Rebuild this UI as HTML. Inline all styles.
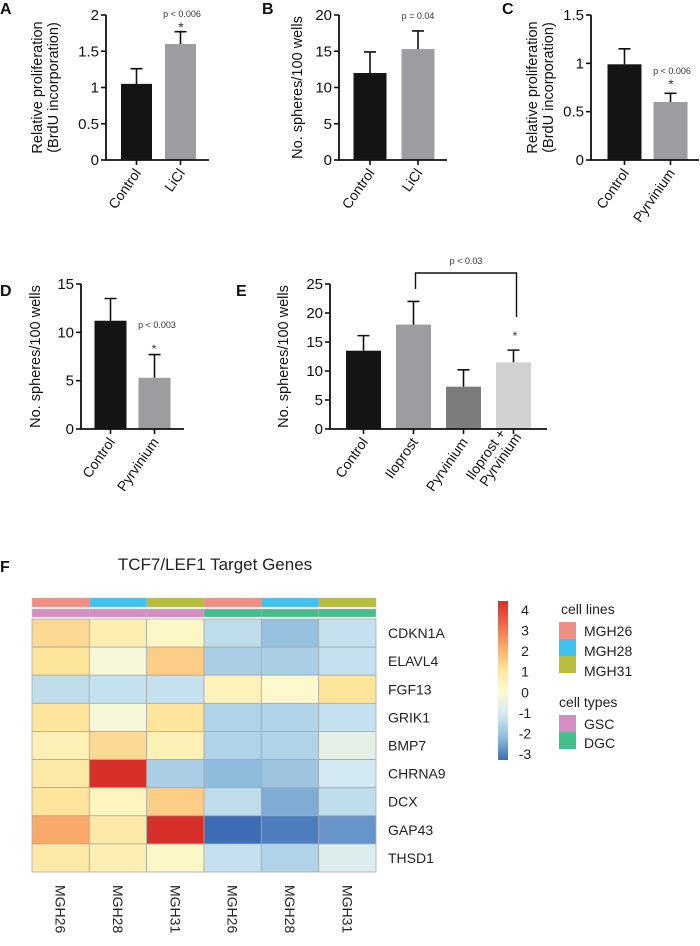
<!DOCTYPE html>
<html><head><meta charset="utf-8">
<style>
html,body{margin:0;padding:0;background:#fff;}
svg{display:block;font-family:"Liberation Sans Narrow","Liberation Sans",sans-serif;}
</style></head>
<body>
<svg id="fig" width="700" height="946" viewBox="0 0 700 946" xmlns="http://www.w3.org/2000/svg"></svg>
<script>
// ---- Bar panel data ----
const catsA = ["Control","LiCl"];
const valsA = [1.05, 1.6];
const errA = [0.21, 0.17];
const ticksA = [0, 0.5, 1, 1.5, 2];

const catsB = ["Control","LiCl"];
const valsB = [12, 15.3];
const errB = [2.9, 2.5];
const ticksB = [0, 5, 10, 15, 20];

const catsC = ["Control","Pyrvinium"];
const valsC = [0.99, 0.6];
const errC = [0.16, 0.09];
const ticksC = [0, 0.5, 1, 1.5];

const catsD = ["Control","Pyrvinium"];
const valsD = [11.2, 5.3];
const errD = [2.3, 2.4];
const ticksD = [0, 5, 10, 15];

const catsE = ["Control","Iloprost","Pyrvinium","Iloprost +|Pyrvinium"];
const valsE = [13.5, 18, 7.3, 11.5];
const errE = [2.6, 4, 2.9, 2.1];
const ticksE = [0, 5, 10, 15, 20, 25];

// ---- Heatmap data ----
const genes = ["CDKN1A","ELAVL4","FGF13","GRIK1","BMP7","CHRNA9","DCX","GAP43","THSD1"];
const sampleLabels = ["MGH26","MGH28","MGH31","MGH26","MGH28","MGH31"];
const cellLineOf = ["MGH26","MGH28","MGH31","MGH26","MGH28","MGH31"];
const cellTypeOf = ["GSC","GSC","GSC","DGC","DGC","DGC"];
const heatValues = [
  [1.2, 0.6, 0.2, -1.3, -1.9, -1.2],
  [1.0, -0.2, 1.4, -1.6, -1.6, -1.2],
  [-1.3, -1.2, -1.2, 0.4, 0.1, 1.0],
  [1.0, -0.2, 1.0, -1.5, -1.5, -1.2],
  [0.5, 1.2, 0.5, -1.5, -1.5, -0.6],
  [0.8, 4.0, -1.6, -2.0, -1.8, -1.0],
  [1.0, 0.3, 1.4, -1.3, -2.2, -1.3],
  [2.0, 0.8, 4.0, -3.0, -2.8, -2.5],
  [0.8, 0.6, 0.2, -1.2, -1.5, -0.8]
];
const colorTicks = [4, 3, 2, 1, 0, -1, -2, -3];

const NS = "http://www.w3.org/2000/svg";
const svg = document.getElementById("fig");
function mk(tag, attrs, parent) {
  const e = document.createElementNS(NS, tag);
  for (const k in attrs) e.setAttribute(k, attrs[k]);
  (parent || svg).appendChild(e);
  return e;
}
function txt(s, attrs, parent) { const e = mk("text", attrs, parent); e.textContent = s; return e; }

function barPanel(cfg) {
  const g = mk("g", {});
  
  
  const yMax = cfg.ticks[cfg.ticks.length - 1];
  const y = v => cfg.y0 - (v / yMax) * (cfg.y0 - cfg.yTop);
  const xc = i => cfg.c0 + cfg.step * i;
  const L = txt(cfg.letter, {x: cfg.lx, y: cfg.ly, "font-size": 16, "font-weight": "bold", fill: "#111"}, g);
  
  
  cfg.vals.forEach((v, i) => {
    const cx = xc(i);
    const b = mk("rect", {x: cx - cfg.bw / 2, y: y(v), width: cfg.bw, height: cfg.y0 - y(v), fill: cfg.colors[i]}, g);
    
    
    const top = y(v + cfg.errs[i]);
    const eb = mk("path", {d: `M${cx},${y(v)}V${top}M${cx - 6},${top}H${cx + 6}`, stroke: "#111", "stroke-width": 1.6, fill: "none"}, g);
    
    
    mk("line", {x1: cx, y1: cfg.y0, x2: cx, y2: cfg.y0 + 5, stroke: "#111", "stroke-width": 1.6}, g);
    const parts = cfg.cats[i].split("|");
    const lbl = txt("", {transform: `translate(${cx + 5},${cfg.y0 + 13}) rotate(-55)`, "text-anchor": "end", "font-size": 14, fill: "#111"}, g);
    
    
    parts.forEach((p, k) => { const ts = mk("tspan", {x: k === 0 ? 0 : 6, dy: k === 0 ? -(parts.length - 1) * 15 : 15}, lbl); ts.textContent = p; });
  });
  const ax = mk("path", {d: `M${cfg.ax},${cfg.yTop}V${cfg.y0}H${cfg.xEnd}`, stroke: "#111", "stroke-width": 1.8, fill: "none"}, g);
  
  
  cfg.ticks.forEach(t => {
    mk("line", {x1: cfg.ax - 5, y1: y(t), x2: cfg.ax, y2: y(t), stroke: "#111", "stroke-width": 1.6}, g);
    const tl = txt(String(t), {x: cfg.ax - 7, y: y(t) + 5, "text-anchor": "end", "font-size": 15, fill: "#111"}, g);
    
    
  });
  const yt = txt("", {transform: `translate(${cfg.tx},${(cfg.y0 + cfg.yTop) / 2}) rotate(-90)`, "text-anchor": "middle", "font-size": 14.5, fill: "#111"}, g);
  
  
  cfg.title.forEach((p, k) => { const ts = mk("tspan", {x: 0, dy: k === 0 ? 0 : 16}, yt); ts.textContent = p; });
  (cfg.notes || []).forEach(nt => {
    const t = txt(nt.t, {x: nt.x, y: nt.y, "text-anchor": "middle", "font-size": nt.s || 9, fill: "#333"}, g);
    
    
  });
  return {g, y, xc};
}

barPanel({name: "panel-a", letter: "A", lx: 0, ly: 14, cats: catsA, vals: valsA, errs: errA, ticks: ticksA,
  ax: 106, xEnd: 209, c0: 136.5, step: 44, bw: 31, y0: 160, yTop: 15, colors: ["#141412", "#9d9da1"],
  tx: 42, title: ["Relative proliferation", "(BrdU incorporation)"],
  notes: [{t: "p < 0.006", x: 182, y: 17, name: "p-value"}, {t: "*", x: 181, y: 32, s: 14, name: "significance-star"}]});
barPanel({name: "panel-b", letter: "B", lx: 262, ly: 14, cats: catsB, vals: valsB, errs: errB, ticks: ticksB,
  ax: 339, xEnd: 447, c0: 370, step: 48, bw: 33, y0: 160, yTop: 15, colors: ["#141412", "#9d9da1"],
  tx: 302, title: ["No. spheres/100 wells"],
  notes: [{t: "p = 0.04", x: 418, y: 19, name: "p-value"}]});
barPanel({name: "panel-c", letter: "C", lx: 502, ly: 14, cats: catsC, vals: valsC, errs: errC, ticks: ticksC,
  ax: 591, xEnd: 699, c0: 624.5, step: 46, bw: 34, y0: 160, yTop: 15, colors: ["#141412", "#9d9da1"],
  tx: 537, title: ["Relative proliferation", "(BrdU incorporation)"],
  notes: [{t: "p < 0.006", x: 672, y: 74, name: "p-value"}, {t: "*", x: 671, y: 89, s: 14, name: "significance-star"}]});
barPanel({name: "panel-d", letter: "D", lx: 0, ly: 296, cats: catsD, vals: valsD, errs: errD, ticks: ticksD,
  ax: 81, xEnd: 184, c0: 110.5, step: 44, bw: 32, y0: 429, yTop: 284, colors: ["#141412", "#9d9da1"],
  tx: 40, title: ["No. spheres/100 wells"],
  notes: [{t: "p < 0.003", x: 157, y: 328, name: "p-value"}, {t: "*", x: 154, y: 353, s: 12, name: "significance-star"}]});
const pe = barPanel({name: "panel-e", letter: "E", lx: 236, ly: 296, cats: catsE, vals: valsE, errs: errE, ticks: ticksE,
  ax: 330, xEnd: 547, c0: 363.5, step: 50, bw: 35, y0: 429, yTop: 284, colors: ["#141412", "#9d9da1", "#7c7c7c", "#d2d2d3"],
  tx: 288, title: ["No. spheres/100 wells"],
  notes: [{t: "p < 0.03", x: 466, y: 264, name: "p-value"}, {t: "*", x: 515, y: 340, s: 12, name: "significance-star"}]});
const br = mk("path", {d: `M${pe.xc(1) + 2},289V273H${pe.xc(3) + 3}V317`, stroke: "#111", "stroke-width": 1.4, fill: "none"});



// ---- Heatmap ----
const stops = [[-3, [62, 109, 181]], [-2, [143, 188, 220]], [-1, [211, 233, 242]], [0, [253, 251, 210]], [1, [253, 229, 156]], [2, [247, 169, 104]], [3, [236, 105, 74]], [4, [215, 48, 42]]];
function col(v) {
  v = Math.max(-3, Math.min(4, v));
  for (let i = 0; i < stops.length - 1; i++) {
    const [a, ca] = stops[i], [b, cb] = stops[i + 1];
    if (v <= b) { const t = (v - a) / (b - a); return "rgb(" + ca.map((c, k) => Math.round(c + (cb[k] - c) * t)).join(",") + ")"; }
  }
}
const lineColors = {MGH26: "#f08e86", MGH28: "#3fc2ef", MGH31: "#b8bd3c"};
const typeColors = {GSC: "#d58dc2", DGC: "#44be8c"};
const hx = 32, hw = 344 / 6, hy = 619, hh = 253 / 9;
const hm = mk("g", {});


const fl = txt("F", {x: 0, y: 572, "font-size": 16, "font-weight": "bold", fill: "#111"}, hm);


const ht = txt("TCF7/LEF1 Target Genes", {x: 215, y: 570, "text-anchor": "middle", "font-size": 17, fill: "#222"}, hm);


cellLineOf.forEach((c, j) => {
  const r = mk("rect", {x: hx + j * hw, y: 598, width: hw, height: 9, fill: lineColors[c], stroke: "#bbb", "stroke-width": 0.5}, hm);
  
  
});
cellTypeOf.forEach((c, j) => {
  const r = mk("rect", {x: hx + j * hw, y: 609, width: hw, height: 8, fill: typeColors[c], stroke: "#bbb", "stroke-width": 0.5}, hm);
  
  
});
heatValues.forEach((row, i) => {
  row.forEach((v, j) => {
    const r = mk("rect", {x: hx + j * hw, y: hy + i * hh, width: hw, height: hh, fill: col(v), stroke: "#a9a9a9", "stroke-width": 0.8}, hm);
    
    
  });
  const gl = txt(genes[i], {x: 388, y: hy + i * hh + hh / 2 + 5, "font-size": 14, fill: "#222"}, hm);
  
  
});
sampleLabels.forEach((s, j) => {
  const t = txt(s, {transform: `translate(${hx + j * hw + hw / 2 - 5},885) rotate(90)`, "font-size": 14, fill: "#222"}, hm);
  
  
});
const defs = mk("defs", {});
const lg = mk("linearGradient", {id: "cb", x1: 0, y1: 1, x2: 0, y2: 0}, defs);
stops.forEach(([v, c]) => mk("stop", {offset: ((v + 3) / 7), "stop-color": "rgb(" + c.join(",") + ")"}, lg));
const cb = mk("rect", {x: 498, y: 601, width: 10, height: 159, fill: "url(#cb)"}, hm);


colorTicks.forEach(t => {
  const yy = 610 + (4 - t) * ((754 - 610) / 7);
  const tl = txt(String(t), {x: 525, y: yy + 5, "text-anchor": "middle", "font-size": 14, fill: "#222"}, hm);
  
  
});
const lgTitle1 = txt("cell lines", {x: 561, y: 614, "font-size": 14, fill: "#222"}, hm);


["MGH26", "MGH28", "MGH31"].forEach((k, i) => {
  const r = mk("rect", {x: 559, y: 622 + i * 17, width: 17, height: 17, fill: lineColors[k]}, hm);
  
  
  const t = txt(k, {x: 584, y: 636 + i * 20, "font-size": 14, fill: "#222"}, hm);
  
  
});
const lgTitle2 = txt("cell types", {x: 559, y: 707, "font-size": 14, fill: "#222"}, hm);


["GSC", "DGC"].forEach((k, i) => {
  const r = mk("rect", {x: 559, y: 715 + i * 17, width: 17, height: 17, fill: typeColors[k]}, hm);
  
  
  const t = txt(k, {x: 584, y: 729 + i * 19, "font-size": 14, fill: "#222"}, hm);
  
  
});
</script>
</body></html>
